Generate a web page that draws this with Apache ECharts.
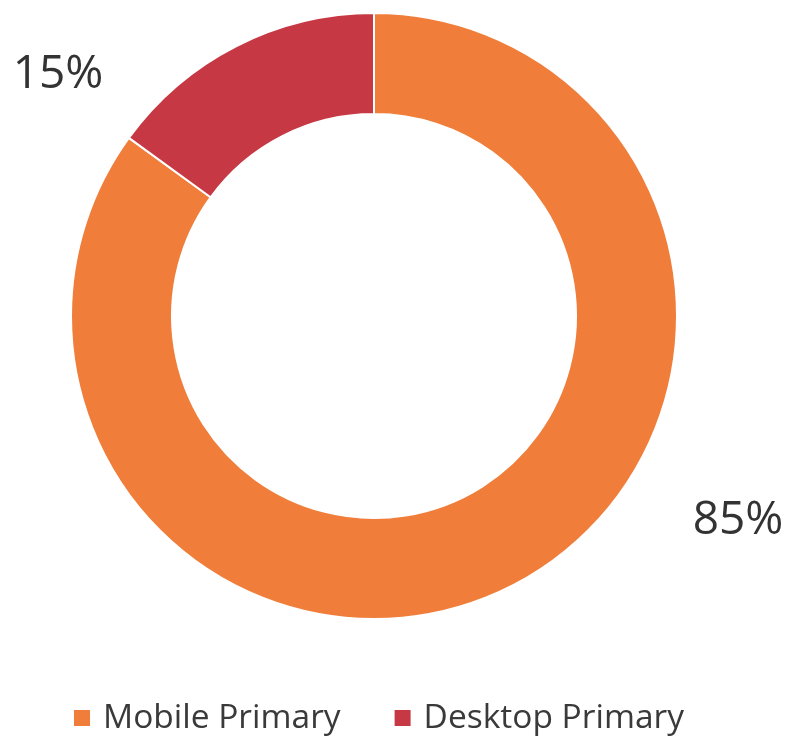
<!DOCTYPE html>
<html>
<head>
<meta charset="utf-8">
<script src="https://cdn.jsdelivr.net/npm/echarts@6/dist/echarts.min.js"></script>
<style>
    html, body { margin: 0; padding: 0; background: #fff; }
    #chart { width: 790px; height: 738px; }
</style>
</head>
<body>
<div id="chart"></div>
<script>
var categories = ['Mobile Primary', 'Desktop Primary'];
var shares = [85, 15];
var colors = ['#F07E3A', '#C63843'];

// label anchors (text only, not marks)
var labelPos = [[738, 521], [58, 75]];

var myChart = echarts.init(document.getElementById('chart'));
var data = [];
for (var i = 0; i < categories.length; i++) {
    data.push({
        name: categories[i],
        value: shares[i],
        itemStyle: { color: colors[i] }
    });
}
var option = {
    textStyle: { fontFamily: 'Open Sans' },
    legend: {
        data: categories,
        bottom: -2,
        left: 67,
        itemWidth: 18,
        itemHeight: 18,
        itemGap: 52,
        icon: 'rect',
        textStyle: {
            fontSize: 33.5,
            color: '#3a3a3a',
            fontFamily: 'Open Sans',
            padding: [0, 0, 0, 7]
        }
    },
    series: [{
        type: 'pie',
        center: [374, 316],
        radius: [202, 303],
        startAngle: 90,
        clockwise: true,
        silent: true,
        itemStyle: {
            borderColor: '#fff',
            borderWidth: 2
        },
        label: {
            show: true,
            position: 'outside',
            formatter: '{c}%',
            fontSize: 46,
            color: '#333',
            fontFamily: 'Open Sans'
        },
        labelLine: { show: false },
        labelLayout: function (params) {
            var p = labelPos[params.dataIndex];
            return { x: p[0], y: p[1], align: 'center', verticalAlign: 'middle' };
        },
        data: data
    }]
};
myChart.setOption(option);
</script>
</body>
</html>
